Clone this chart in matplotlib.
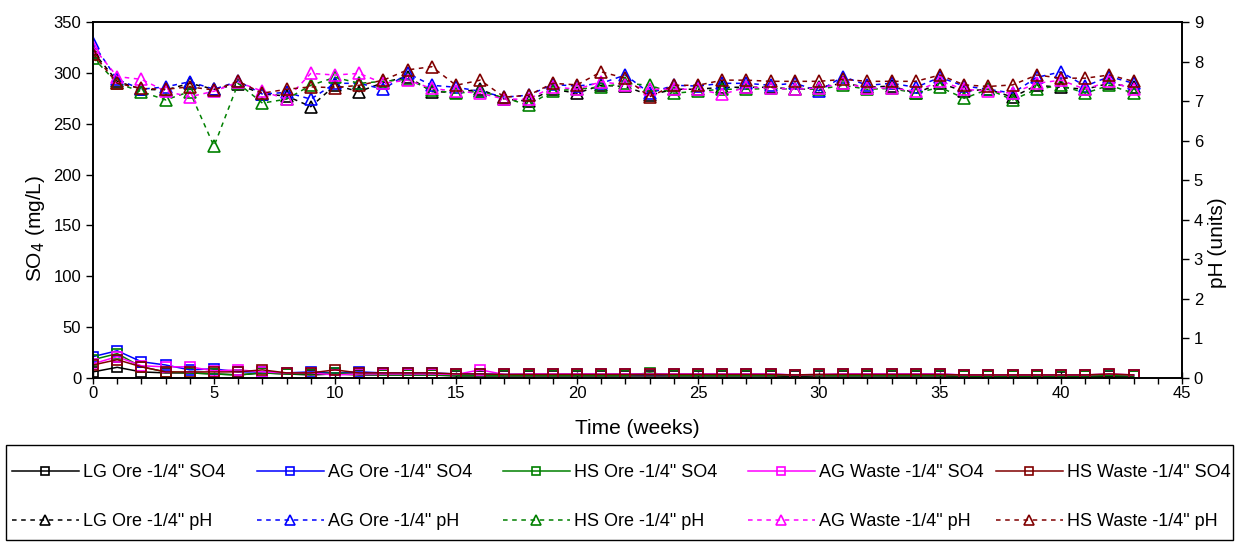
import matplotlib
matplotlib.use("Agg")
import matplotlib.pyplot as plt
from matplotlib.ticker import MultipleLocator
from matplotlib.patches import Rectangle

plt.rcParams['font.family'] = ['Liberation Sans', 'DejaVu Sans']

weeks = list(range(44))

so4_lg = [6, 10.5, 6, 5, 5, 4, 3, 5, 4, 3, 4, 3, 3, 3, 3, 2, 2, 2, 2, 2, 2, 2, 2, 2, 2, 2, 2, 2, 2, 1.5,
          2, 2, 2, 2, 2, 2, 1.5, 1.5, 1.5, 1.5, 1, 1.5, 1.5, 1.5]
so4_ag = [21, 26.8, 16, 12.8, 8, 9, 6, 6, 5, 6, 5, 6, 5, 5, 5, 4, 4, 3.5, 3.5, 3.5, 3.5, 3.5, 3.5, 3.5, 3.5,
          3.5, 3.5, 3.5, 3.5, 3, 3, 3.5, 3.5, 3.5, 3.5, 3.5, 3, 3, 3, 3, 3, 3, 3, 3]
so4_hs = [18, 24, 11, 6, 5, 4, 3, 5, 4, 4, 5, 4, 3, 3, 3, 2.5, 2.5, 2.5, 2.5, 2.5, 2.5, 2.5, 2.5, 5, 2.5,
          2.5, 2.5, 2.5, 2.5, 2.5, 2.5, 2.5, 2.5, 2.5, 2.5, 2.5, 2, 2, 2, 2, 2, 2, 2.5, 2]
so4_agw = [14, 21, 12, 11, 11, 7, 8, 6, 5, 5, 3, 4, 4, 4, 4, 3.5, 8, 3.5, 4, 4, 4, 4, 4, 4, 4, 4, 4, 4, 4, 3,
           3.5, 4, 4, 4, 4, 4, 3, 3, 3, 3, 3, 3, 4, 3]
so4_hsw = [12.8, 18, 11, 6, 6, 6, 6, 8, 5, 5, 8, 5, 5, 5, 5, 4, 4, 3.5, 3.5, 3.5, 3.5, 3.5, 3.5, 3.5, 3.5,
           3.5, 3.5, 3.5, 3.5, 3, 3.5, 3.5, 3.5, 3.5, 3.5, 3.5, 3, 3, 3, 3, 3, 3, 4, 3]

ph_lg = [8.25, 7.5, 7.3, 7.28, 7.45, 7.3, 7.42, 7.18, 7.13, 6.86, 7.4, 7.24, 7.47, 7.62, 7.24, 7.22, 7.3,
         7.05, 7.0, 7.3, 7.2, 7.4, 7.37, 7.15, 7.3, 7.3, 7.35, 7.35, 7.35, 7.3, 7.35, 7.45, 7.35, 7.38,
         7.2, 7.45, 7.25, 7.3, 7.1, 7.4, 7.35, 7.3, 7.45, 7.35]
ph_ag = [8.46, 7.55, 7.3, 7.36, 7.49, 7.3, 7.5, 7.18, 7.22, 7.05, 7.45, 7.45, 7.3, 7.7, 7.4, 7.35, 7.25,
         7.1, 7.15, 7.42, 7.38, 7.45, 7.66, 7.2, 7.4, 7.38, 7.45, 7.45, 7.4, 7.45, 7.26, 7.62, 7.4, 7.45,
         7.35, 7.6, 7.38, 7.3, 7.2, 7.6, 7.74, 7.38, 7.62, 7.45]
ph_hs = [8.1, 7.45, 7.24, 7.03, 7.24, 5.86, 7.45, 6.95, 7.05, 7.4, 7.6, 7.45, 7.5, 7.55, 7.28, 7.2, 7.25,
         7.08, 6.9, 7.26, 7.3, 7.36, 7.45, 7.4, 7.2, 7.25, 7.3, 7.3, 7.32, 7.3, 7.3, 7.4, 7.3, 7.32, 7.2,
         7.35, 7.07, 7.3, 7.03, 7.3, 7.4, 7.2, 7.4, 7.2]
ph_agw = [8.37, 7.62, 7.55, 7.25, 7.11, 7.25, 7.48, 7.25, 7.05, 7.7, 7.66, 7.7, 7.45, 7.53, 7.32, 7.25,
          7.2, 7.05, 7.05, 7.36, 7.3, 7.49, 7.41, 7.3, 7.3, 7.3, 7.17, 7.35, 7.33, 7.3, 7.33, 7.45, 7.33,
          7.33, 7.25, 7.5, 7.3, 7.25, 7.2, 7.45, 7.53, 7.3, 7.5, 7.3]
ph_hsw = [8.2, 7.45, 7.32, 7.3, 7.36, 7.28, 7.5, 7.2, 7.3, 7.36, 7.34, 7.4, 7.53, 7.79, 7.87, 7.4, 7.53,
          7.1, 7.15, 7.45, 7.41, 7.74, 7.58, 7.11, 7.4, 7.4, 7.53, 7.53, 7.5, 7.5, 7.5, 7.55, 7.5, 7.5,
          7.5, 7.66, 7.41, 7.37, 7.41, 7.66, 7.58, 7.58, 7.66, 7.5]

names = ['LG Ore -1/4"', 'AG Ore -1/4"', 'HS Ore -1/4"', 'AG Waste -1/4"', 'HS Waste -1/4"']
colors = ['#000000', '#0000FF', '#008000', '#FF00FF', '#800000']
so4_series = [so4_lg, so4_ag, so4_hs, so4_agw, so4_hsw]
ph_series = [ph_lg, ph_ag, ph_hs, ph_agw, ph_hsw]

W, H = 1239, 543
fig = plt.figure(figsize=(W/100, H/100), dpi=100)
ax = fig.add_axes([93/W, 1-378/H, (1182-93)/W, (378-22)/H])
ax2 = ax.twinx()

pairs = []
for name, c, s, p in zip(names, colors, so4_series, ph_series):
    h1, = ax.plot(weeks, s, color=c, lw=1.1, marker='s', ms=7, mfc='none', mec=c, mew=1.2,
                  label=name + ' SO4')
    h2, = ax2.plot(weeks, p, color=c, lw=1.1, ls=(0, (3, 3)), marker='^', ms=8, mfc='none', mec=c,
                   mew=1.2, label=name + ' pH')
    pairs.append([h1, h2])

ax.set_xlim(0, 45)
ax.set_ylim(0, 350)
ax2.set_ylim(0, 9)
ax.xaxis.set_major_locator(MultipleLocator(5))
ax.xaxis.set_minor_locator(MultipleLocator(1))
ax.yaxis.set_major_locator(MultipleLocator(50))
ax2.yaxis.set_major_locator(MultipleLocator(1))

ax.tick_params(axis='x', which='major', direction='inout', length=8, width=1, labelsize=12, pad=2)
ax.tick_params(axis='x', which='minor', direction='out', length=4, width=1)
ax.tick_params(axis='y', direction='out', length=5, width=1, labelsize=12)
ax2.tick_params(axis='y', direction='out', length=5, width=1, labelsize=12)

for a in (ax, ax2):
    for sp in a.spines.values():
        sp.set_linewidth(1.2)

ax.set_xlabel('Time (weeks)', fontsize=15)
ax.xaxis.set_label_coords(0.5, (378-428)/356)
ax.xaxis.label.set_va('center')
ax.set_ylabel('SO$_4$ (mg/L)', fontsize=15)
ax.yaxis.set_label_coords(-(93-35)/1089, (378-228)/356)
ax.yaxis.label.set_va('center')
ax2.set_ylabel('pH (units)', fontsize=15)
ax2.yaxis.set_label_coords(1 + (1218-1182)/1089, (378-243)/356)
ax2.yaxis.label.set_va('center')

# legend: outer box plus five equally spaced columns
fig.add_artist(Rectangle((6/W, 1-540/H), (1233-6)/W, (540-445)/H, transform=fig.transFigure,
                         fill=False, edgecolor='black', linewidth=1.0))
col_x = [12, 257, 503, 748, 996]
for x0, hs in zip(col_x, pairs):
    fig.legend(handles=hs, loc='upper left', bbox_to_anchor=(x0/W, 1-464/H),
               frameon=False, fontsize=13, handlelength=3.7, handletextpad=0.25,
               labelspacing=1.78, borderpad=0, borderaxespad=0, markerscale=0.9)

fig.savefig('out.png', dpi=100)
